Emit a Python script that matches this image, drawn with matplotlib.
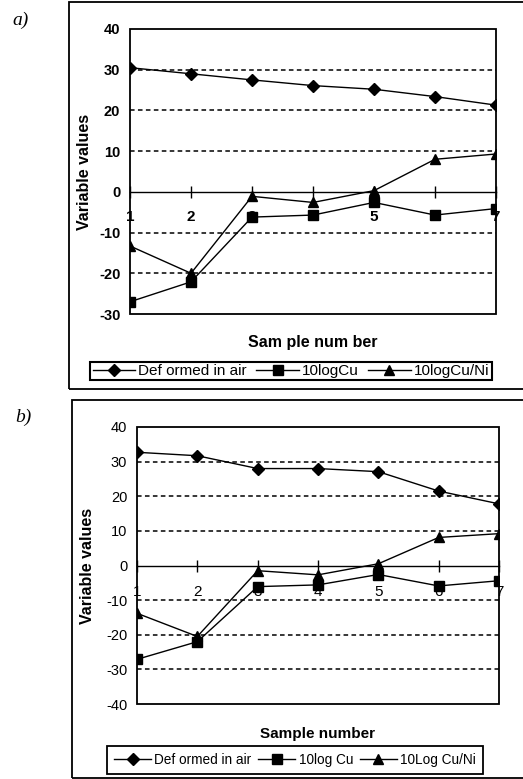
import numpy as np
import matplotlib
matplotlib.use('Agg')
import matplotlib.pyplot as plt
from matplotlib.patches import Rectangle
from matplotlib.lines import Line2D

plt.rcParams['font.family'] = ['Liberation Sans', 'DejaVu Sans']
plt.rcParams['axes.unicode_minus'] = False

samples = [1, 2, 3, 4, 5, 6, 7]

# panel a
air_a = [30.5, 29.0, 27.5, 26.1, 25.2, 23.4, 21.3]
cu_a = [-27.0, -22.1, -6.2, -5.7, -2.6, -5.7, -4.1]
cuni_a = [-13.3, -20.0, -1.1, -2.6, 0.3, 8.0, 9.3]
labels_a = ['Def ormed in air', '10logCu', '10logCu/Ni']

# panel b
air_b = [32.7, 31.7, 28.0, 28.0, 27.1, 21.5, 17.8]
cu_b = [-27.1, -22.0, -6.1, -5.6, -2.6, -5.9, -4.4]
cuni_b = [-13.8, -20.5, -1.5, -2.7, 0.5, 8.1, 9.2]
labels_b = ['Def ormed in air', '10log Cu', '10Log Cu/Ni']

W, H = 523, 779
fig = plt.figure(figsize=(W / 100, H / 100), dpi=100)


def px_axes(l, t, r, b):
    return fig.add_axes([l / W, 1 - b / H, (r - l) / W, (b - t) / H])


def frame(l, t, r, b):
    fig.patches.append(Rectangle((l / W, 1 - b / H), (r - l) / W, (b - t) / H,
                                 transform=fig.transFigure, fill=False,
                                 edgecolor='black', lw=1.3))


def panel(ax, air, cu, cuni, ymin, ymax, bold, lab_pad):
    wt = 'bold' if bold else 'normal'
    ax.plot(samples, air, color='black', lw=1.0, marker='D', ms=6, zorder=4)
    ax.plot(samples, cu, color='black', lw=1.0, marker='s', ms=6.5, zorder=4)
    ax.plot(samples, cuni, color='black', lw=1.0, marker='^', ms=7.5, zorder=4)
    ax.set_xlim(1, 7)
    ax.set_ylim(ymin, ymax)
    ax.set_yticks(np.arange(ymin, ymax + 1, 10))
    ax.set_xticks(samples)
    for y in np.arange(ymin, ymax + 1, 10):
        if y != 0 and y != ymin and y != ymax:
            ax.axhline(y, color='black', lw=1.1, ls=(0, (3, 2.2)), zorder=1)
    for s in ['top', 'left', 'right']:
        ax.spines[s].set_visible(False)
    ax.spines['bottom'].set_position(('data', 0))
    ax.spines['bottom'].set_linewidth(1.0)
    ax.add_patch(Rectangle((0, 0), 1, 1, transform=ax.transAxes, fill=False,
                           edgecolor='black', lw=1.3, zorder=5, clip_on=False))
    ax.tick_params(axis='x', direction='inout', length=8, width=1.0,
                   pad=lab_pad, labelsize=11)
    ax.tick_params(axis='y', length=0, pad=7, labelsize=10.5)
    for t in ax.get_xticklabels() + ax.get_yticklabels():
        t.set_fontweight(wt)
    ax.set_ylabel('Variable values', fontsize=11.5, fontweight='bold')


# ---- panel a ----
frame(69, 2, 540, 389)
fig.text(12 / W, 1 - 20 / H, 'a)', fontsize=14, style='italic',
         family='Liberation Serif', va='center')
ax1 = px_axes(130, 29, 496, 314)
panel(ax1, air_a, cu_a, cuni_a, -30, 40, True, 9)
ax1.yaxis.set_label_coords(-38 / 366, 0.5)
fig.text(313 / W, 1 - 343 / H, 'Sam ple num ber', fontsize=11.5,
         fontweight='bold', ha='center', va='center')

# ---- panel b ----
frame(72, 400, 540, 778)
fig.text(15 / W, 1 - 417 / H, 'b)', fontsize=14, style='italic',
         family='Liberation Serif', va='center')
ax2 = px_axes(137, 427, 499, 704)
panel(ax2, air_b, cu_b, cuni_b, -40, 40, False, 10)
ax2.yaxis.set_label_coords(-42 / 362, 0.5)
fig.text(318 / W, 1 - 734 / H, 'Sample number', fontsize=11,
         fontweight='bold', ha='center', va='center')

handles = [Line2D([], [], color='black', lw=1.0, marker=m, ms=s)
           for m, s in [('D', 6), ('s', 6.5), ('^', 7.5)]]

leg1 = fig.legend(handles, labels_a, loc='center', ncol=3,
                  bbox_to_anchor=(291 / W, 1 - 371 / H), fontsize=11,
                  handlelength=2.8, handletextpad=0.2, columnspacing=0.6,
                  borderpad=0.15, fancybox=False, edgecolor='black',
                  framealpha=1)
leg1.get_frame().set_linewidth(1.5)

leg2 = fig.legend(handles, labels_b, loc='center', ncol=3,
                  bbox_to_anchor=(295 / W, 1 - 760 / H), fontsize=9.8,
                  handlelength=2.7, handletextpad=0.25, columnspacing=0.5,
                  borderpad=0.5, fancybox=False, edgecolor='black',
                  framealpha=1)
leg2.get_frame().set_linewidth(1.3)

fig.savefig('out.png', dpi=100)
